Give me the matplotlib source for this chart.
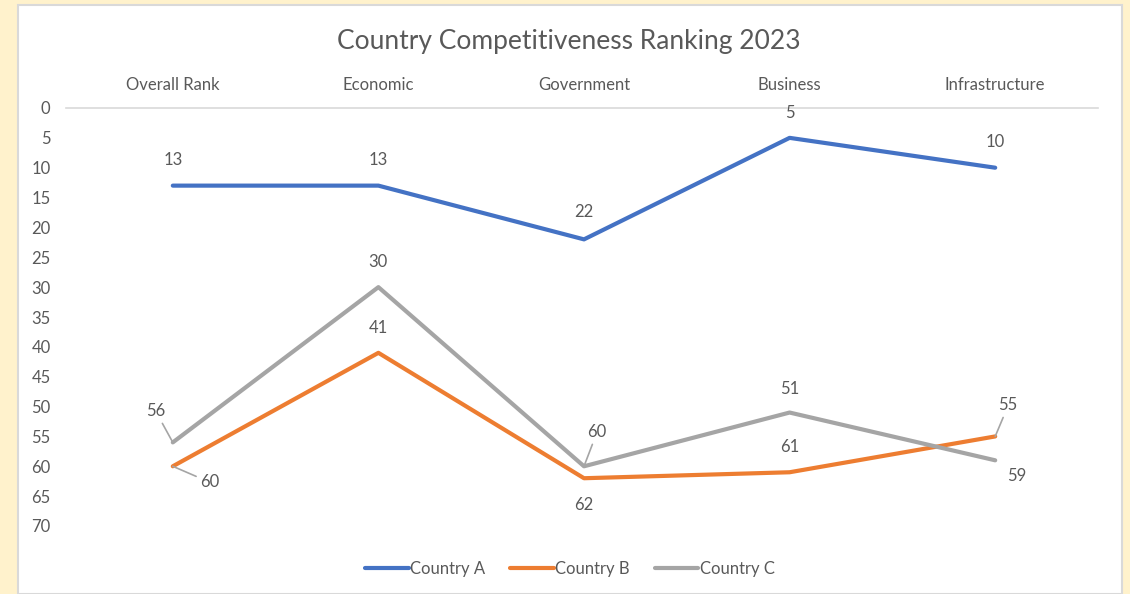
import matplotlib.pyplot as plt
from matplotlib.patches import Rectangle

categories = ['Overall Rank', 'Economic', 'Government', 'Business', 'Infrastructure']
country_a = [13, 13, 22, 5, 10]
country_b = [60, 41, 62, 61, 55]
country_c = [56, 30, 60, 51, 59]
yticks = list(range(0, 75, 5))

plt.rcParams['font.family'] = ['Lato', 'DejaVu Sans']
txt = '#595959'
W, H = 1130, 594
fs = 12

fig = plt.figure(figsize=(11.3, 5.94), dpi=100)
fig.patch.set_facecolor('#FFF2CC')
fig.patches.append(Rectangle((18 / W, 0), 1104 / W, 589 / H, transform=fig.transFigure,
                             facecolor='white', edgecolor='#D9D9D9', lw=1.5, zorder=0))

ax = fig.add_axes([70 / W, 1 - 526 / H, 1028 / W, 418 / H])
ax.set_zorder(2)
ax.set_facecolor('none')
x = range(len(categories))
la, = ax.plot(x, country_a, color='#4472C4', lw=3, solid_capstyle='round', label='Country A')
lb, = ax.plot(x, country_b, color='#ED7D31', lw=3, solid_capstyle='round', label='Country B')
lc, = ax.plot(x, country_c, color='#A5A5A5', lw=3, solid_capstyle='round', label='Country C')

ax.set_xlim(-0.5, 4.5)
ax.set_ylim(70, 0)
ax.set_yticks(yticks)
ax.set_xticks(list(x))
ax.set_xticklabels(categories)
ax.xaxis.tick_top()
ax.tick_params(axis='both', length=0, colors=txt, labelsize=fs)
ax.tick_params(axis='x', pad=11)
ax.tick_params(axis='y', pad=14)
for s in ['left', 'right', 'bottom']:
    ax.spines[s].set_visible(False)
ax.spines['top'].set_color('#D9D9D9')
ax.spines['top'].set_linewidth(1.2)
ax.spines['top'].set_bounds(-0.52, 4.5)

# data label offsets in pixels (dx, dy), leader flag
offs = {
    'A': [(0, 26, 0), (0, 26, 0), (0, 27, 0), (0, 25, 0), (0, 26, 0)],
    'B': [(37, -16, 1), (0, 25, 0), (0, -27, 0), (0, 25, 0), (13, 31, 1)],
    'C': [(-17, 31, 1), (0, 25, 0), (13, 34, 1), (0, 24, 0), (22, -16, 0)],
}
for key, vals in (('A', country_a), ('B', country_b), ('C', country_c)):
    for i, v in enumerate(vals):
        dx, dy, lead = offs[key][i]
        kw = {}
        if lead:
            kw['arrowprops'] = dict(arrowstyle='-', color='#A5A5A5', lw=1.2, shrinkA=1, shrinkB=0)
        ax.annotate(str(v), (i, v), xytext=(dx, dy), textcoords='offset pixels',
                    ha='center', va='center', color=txt, fontsize=fs, **kw)

fig.text(569 / W, 1 - 41 / H, 'Country Competitiveness Ranking 2023', ha='center', va='center',
         color=txt, fontsize=19)
fig.legend(handles=[la, lb, lc], loc='center', bbox_to_anchor=(570 / W, 1 - 569 / H), ncol=3,
           frameon=False, fontsize=fs, labelcolor=txt, handlelength=2.6, handletextpad=0.1,
           columnspacing=1.5)

fig.savefig('out.png', dpi=100, facecolor=fig.get_facecolor())
